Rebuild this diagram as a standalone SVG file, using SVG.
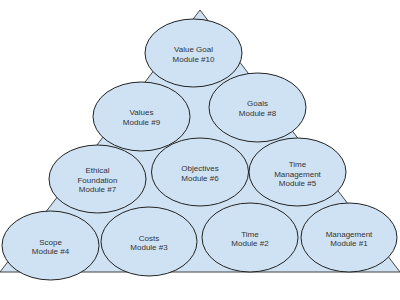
<svg xmlns="http://www.w3.org/2000/svg" width="400" height="300" viewBox="0 0 400 300">
<style>
.tri{fill:#cfe2f3;stroke:#444;stroke-width:1}
.node ellipse{fill:#cfe2f3;stroke:#222;stroke-width:1}
.node text{font-family:"Liberation Sans",Arial,sans-serif;font-size:8px;fill:#333;text-anchor:middle}
</style>
<rect width="400" height="300" fill="#fff"/>
<g id="pyramid"><polygon class="tri" points="200,10 400,272 0,272"/></g>
<g id="connectors"></g>
<g id="n10" class="node"><ellipse cx="193.5" cy="53" rx="48.5" ry="34"/><text x="193.5" y="52">Value Goal</text><text x="193.5" y="61.5">Module #10</text></g>
<g id="n9" class="node"><ellipse cx="141.5" cy="116.5" rx="48.5" ry="34.5"/><text x="141.5" y="115">Values</text><text x="141.5" y="124.5">Module #9</text></g>
<g id="n8" class="node"><ellipse cx="257.5" cy="107.5" rx="48.5" ry="34.5"/><text x="257.5" y="106">Goals</text><text x="257.5" y="115.5">Module #8</text></g>
<g id="n7" class="node"><ellipse cx="97.5" cy="179" rx="48.5" ry="34"/><text x="97.5" y="173">Ethical</text><text x="97.5" y="182.5">Foundation</text><text x="97.5" y="192">Module #7</text></g>
<g id="n6" class="node"><ellipse cx="200" cy="172" rx="48.5" ry="34"/><text x="200" y="171">Objectives</text><text x="200" y="180.5">Module #6</text></g>
<g id="n5" class="node"><ellipse cx="297.5" cy="172" rx="48.5" ry="34"/><text x="297.5" y="167">Time</text><text x="297.5" y="176.5">Management</text><text x="297.5" y="186">Module #5</text></g>
<g id="n4" class="node"><ellipse cx="50.5" cy="245.5" rx="48.5" ry="34.5"/><text x="50.5" y="244.5">Scope</text><text x="50.5" y="254">Module #4</text></g>
<g id="n3" class="node"><ellipse cx="149" cy="241.5" rx="48" ry="34.5"/><text x="149" y="240.5">Costs</text><text x="149" y="250">Module #3</text></g>
<g id="n2" class="node"><ellipse cx="250" cy="237.5" rx="48" ry="34.5"/><text x="250" y="236.5">Time</text><text x="250" y="246">Module #2</text></g>
<g id="n1" class="node"><ellipse cx="349" cy="237.5" rx="48" ry="34.5"/><text x="349" y="236.5">Management</text><text x="349" y="246">Module #1</text></g>
</svg>
